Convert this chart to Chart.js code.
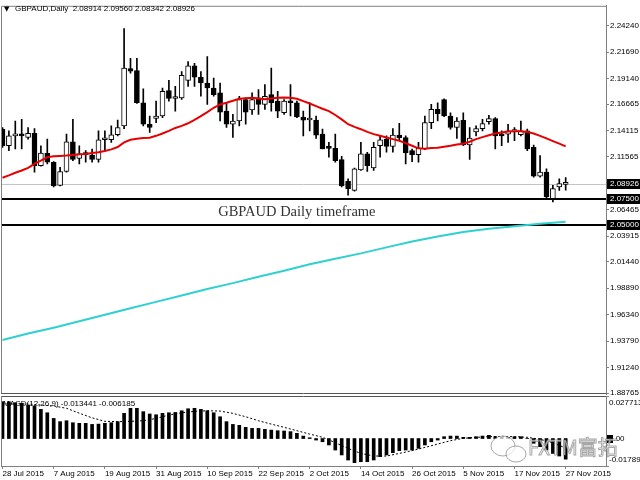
<!DOCTYPE html>
<html>
<head>
<meta charset="utf-8">
<script src="https://cdn.jsdelivr.net/npm/chart.js@4.4.0/dist/chart.umd.min.js"></script>
<style>
  html, body { margin: 0; padding: 0; background: #fff; }
  #wrap { position: relative; width: 640px; height: 480px; overflow: hidden; }
  .pane { position: absolute; left: 0; width: 640px; }
  #mainPane { top: 0; height: 400px; }
  #macdPane { top: 394px; height: 86px; }
</style>
</head>
<body>
<div id="wrap">
  <div class="pane" id="mainPane"><canvas id="mainChart"></canvas></div>
  <div class="pane" id="macdPane"><canvas id="macdChart"></canvas></div>
</div>
<script>
// GBPAUD daily, 28 Jul 2015 - 27 Nov 2015 (one entry per trading day)
const symbol = 'GBPAUD';
const timeframe = 'Daily';

const open = [2.1424, 2.1264, 2.1360, 2.1376, 2.1344, 2.1385, 2.1073, 2.1191, 2.1105, 2.0882,
  2.1016, 2.1303, 2.1143, 2.1185, 2.1175, 2.1131, 2.1322, 2.1322, 2.1370, 2.1456,
  2.2010, 2.1991, 2.1679, 2.1472, 2.1529, 2.1551, 2.1797, 2.1720, 2.1726, 2.1895,
  2.2036, 2.1924, 2.1870, 2.1822, 2.1774, 2.1599, 2.1472, 2.1503, 2.1711, 2.1609,
  2.1726, 2.1663, 2.1758, 2.1695, 2.1583, 2.1695, 2.1679, 2.1542, 2.1513, 2.1513,
  2.1376, 2.1245, 2.1239, 2.1131, 2.0920, 2.0834, 2.1032, 2.1185, 2.1051, 2.1264,
  2.1328, 2.1258, 2.1366, 2.1344, 2.1217, 2.1178, 2.1233, 2.1487, 2.1615, 2.1711,
  2.1551, 2.1440, 2.1510, 2.1271, 2.1398, 2.1430, 2.1497, 2.1526, 2.1366, 2.1376,
  2.1401, 2.1370, 2.1408, 2.1248, 2.0971, 2.1009, 2.0754, 2.0866, 2.08914];
const high = [2.1440, 2.1408, 2.1503, 2.1519, 2.1440, 2.1430, 2.1264, 2.1328, 2.1111, 2.1057,
  2.1376, 2.1519, 2.1264, 2.1217, 2.1233, 2.1408, 2.1408, 2.1456, 2.1513, 2.2396,
  2.2109, 2.2109, 2.1813, 2.1551, 2.1695, 2.1822, 2.1895, 2.1838, 2.1981, 2.2077,
  2.2061, 2.1981, 2.2125, 2.1918, 2.1870, 2.1679, 2.1567, 2.1742, 2.1726, 2.1774,
  2.1806, 2.1854, 2.2013, 2.1790, 2.1711, 2.1854, 2.1695, 2.1599, 2.1679, 2.1551,
  2.1424, 2.1296, 2.1376, 2.1162, 2.0946, 2.1048, 2.1296, 2.1201, 2.1296, 2.1360,
  2.1360, 2.1430, 2.1481, 2.1360, 2.1233, 2.1296, 2.1551, 2.1663, 2.1679, 2.1717,
  2.1583, 2.1535, 2.1583, 2.1440, 2.1456, 2.1519, 2.1558, 2.1535, 2.1408, 2.1472,
  2.1440, 2.1503, 2.1424, 2.1271, 2.1169, 2.1041, 2.0882, 2.0946, 2.09560];
const low = [2.1248, 2.1217, 2.1233, 2.1233, 2.1328, 2.1009, 2.1067, 2.1089, 2.0866, 2.0876,
  2.1009, 2.1121, 2.1089, 2.1105, 2.1105, 2.1105, 2.1217, 2.1296, 2.1360, 2.1430,
  2.1966, 2.1672, 2.1456, 2.1392, 2.1487, 2.1535, 2.1695, 2.1599, 2.1711, 2.1838,
  2.1838, 2.1742, 2.1663, 2.1742, 2.1503, 2.1440, 2.1344, 2.1456, 2.1472, 2.1567,
  2.1567, 2.1615, 2.1599, 2.1535, 2.1567, 2.1551, 2.1535, 2.1360, 2.1408, 2.1335,
  2.1233, 2.1153, 2.1105, 2.0866, 2.0786, 2.0825, 2.1025, 2.1016, 2.1025, 2.1153,
  2.1201, 2.1201, 2.1312, 2.1089, 2.1111, 2.1105, 2.1226, 2.1430, 2.1503, 2.1545,
  2.1424, 2.1335, 2.1264, 2.1131, 2.1360, 2.1408, 2.1472, 2.1233, 2.1264, 2.1296,
  2.1312, 2.1360, 2.1217, 2.0962, 2.0962, 2.0754, 2.0722, 2.0834, 2.08342];
const close = [2.1264, 2.1360, 2.1376, 2.1360, 2.1385, 2.1073, 2.1194, 2.1105, 2.0876, 2.1016,
  2.1303, 2.1131, 2.1185, 2.1178, 2.1131, 2.1322, 2.1328, 2.1370, 2.1440, 2.2013,
  2.1985, 2.1679, 2.1472, 2.1440, 2.1551, 2.1790, 2.1720, 2.1726, 2.1943, 2.2036,
  2.1927, 2.1870, 2.1822, 2.1758, 2.1589, 2.1472, 2.1503, 2.1711, 2.1589, 2.1711,
  2.1663, 2.1742, 2.1679, 2.1599, 2.1695, 2.1679, 2.1542, 2.1510, 2.1519, 2.1366,
  2.1233, 2.1239, 2.1121, 2.0876, 2.0850, 2.1041, 2.1185, 2.1073, 2.1248, 2.1322,
  2.1258, 2.1366, 2.1341, 2.1194, 2.1178, 2.1239, 2.1487, 2.1615, 2.1574, 2.1551,
  2.1440, 2.1503, 2.1271, 2.1338, 2.1430, 2.1478, 2.1526, 2.1360, 2.1360, 2.1408,
  2.1414, 2.1408, 2.1233, 2.0971, 2.1009, 2.0770, 2.0850, 2.0898, 2.08926];

// red moving average
const maRed = [2.0955, 2.0978, 2.1003, 2.1025, 2.1051, 2.1089, 2.1121, 2.1153, 2.1162, 2.1166,
  2.1169, 2.1175, 2.1182, 2.1185, 2.1194, 2.1201, 2.1213, 2.1229, 2.1252, 2.1296,
  2.1322, 2.1331, 2.1338, 2.1341, 2.1360, 2.1382, 2.1408, 2.1436, 2.1456, 2.1481,
  2.1513, 2.1551, 2.1589, 2.1631, 2.1663, 2.1679, 2.1698, 2.1717, 2.1723, 2.1727,
  2.1720, 2.1714, 2.1720, 2.1727, 2.1730, 2.1727, 2.1717, 2.1695, 2.1672, 2.1647,
  2.1621, 2.1599, 2.1561, 2.1519, 2.1472, 2.1446, 2.1424, 2.1398, 2.1376, 2.1360,
  2.1344, 2.1328, 2.1312, 2.1290, 2.1264, 2.1239, 2.1236, 2.1242, 2.1245, 2.1255,
  2.1264, 2.1277, 2.1284, 2.1303, 2.1328, 2.1347, 2.1366, 2.1382, 2.1392, 2.1401,
  2.1405, 2.1405, 2.1398, 2.1382, 2.1360, 2.1335, 2.1309, 2.1284, 2.1258];

// long (cyan) average, read every 4th bar
const cyanBars = [0, 4, 8, 12, 16, 20, 24, 28, 32, 36, 40, 44, 48, 52, 56, 60, 64, 68, 72, 76, 80, 84, 88];
const cyanVals = [1.9389, 1.9451, 1.9508, 1.9570, 1.9632, 1.9695, 1.9757, 1.9819, 1.9881, 1.9938,
  2.0000, 2.0058, 2.0120, 2.0173, 2.0225, 2.0283, 2.0340, 2.0388, 2.0431, 2.0464, 2.0488, 2.0512, 2.0531];

// MACD(12,26,9) main as histogram, signal as dotted line
const macdMain = [0.0240, 0.0240, 0.0233, 0.0229, 0.0218, 0.0212, 0.0190, 0.0168, 0.0131, 0.0110,
  0.0116, 0.0103, 0.0099, 0.0099, 0.0092, 0.0094, 0.0099, 0.0103, 0.0110, 0.0164,
  0.0197, 0.0197, 0.0175, 0.0160, 0.0155, 0.0164, 0.0168, 0.0170, 0.0181, 0.0194,
  0.0197, 0.0190, 0.0181, 0.0168, 0.0142, 0.0110, 0.0092, 0.0086, 0.0073, 0.0066,
  0.0066, 0.0060, 0.0055, 0.0051, 0.0049, 0.0045, 0.0034, 0.0016, 0.0005, -0.0010,
  -0.0021, -0.0042, -0.0075, -0.0107, -0.0140, -0.0157, -0.0151, -0.0151, -0.0140, -0.0118,
  -0.0107, -0.0092, -0.0079, -0.0075, -0.0075, -0.0064, -0.0042, -0.0021, -0.0010, 0.0012,
  0.0016, 0.0016, 0.0008, 0.0008, 0.0012, 0.0016, 0.0021, 0.0012, 0.0008, 0.0008,
  0.0012, 0.0012, 0.0001, -0.0031, -0.0053, -0.0075, -0.0097, -0.0114, -0.013441];
const signalBars = [0, 4, 8, 10, 12, 14, 16, 18, 20, 22, 24, 26, 28, 30, 32, 34, 36, 38, 40, 42,
  44, 46, 48, 50, 52, 54, 56, 58, 60, 62, 64, 66, 68, 70, 72, 74, 76, 78, 80, 82, 84, 86, 88];
const signalVals = [0.0229, 0.0225, 0.0212, 0.0197, 0.0165, 0.0135, 0.0112, 0.0110, 0.0112, 0.0116,
  0.0131, 0.0153, 0.0168, 0.0177, 0.0181, 0.0179, 0.0164, 0.0142, 0.0116, 0.0094,
  0.0073, 0.0051, 0.0029, 0.0008, -0.0027, -0.0064, -0.0097, -0.0114, -0.0114, -0.0097,
  -0.0079, -0.0058, -0.0036, -0.0014, 0.0001, 0.0008, 0.0012, 0.0014, 0.0012, 0.0008,
  -0.0005, -0.0027, -0.006185];

// axis labels
const dateBars = [0, 8, 16, 24, 32, 40, 48, 56, 64, 72, 80, 88];
const dateLabels = ['28 Jul 2015', '7 Aug 2015', '19 Aug 2015', '31 Aug 2015', '10 Sep 2015', '22 Sep 2015',
  '2 Oct 2015', '14 Oct 2015', '26 Oct 2015', '5 Nov 2015', '17 Nov 2015', '27 Nov 2015'];
const priceTicks = [2.24240, 2.21690, 2.19140, 2.16665, 2.14115, 2.11565, 2.06465,
  2.03915, 2.01440, 1.98890, 1.96340, 1.93790, 1.91240, 1.88765];
const levels = [2.07500, 2.05000];
const macdTicks = [0.027713, 0, -0.017897];

const noteText = 'GBPAUD Daily timeframe';
const watermark = 'FXTM富拓';

// ---------- layout ----------
const FONT = 'Liberation Sans';
const xMin = -0.234, xMax = 94.3;        // 6.4px per bar, chart shifted left
const priceMin = 1.88676, priceMax = 2.26152;
const macdMin = -0.017897, macdMax = 0.027713;
const noteAt = [46, 2.0625];

Chart.defaults.font.family = FONT;
Chart.defaults.font.size = 8;
Chart.defaults.color = '#000';

const bars = open.map((_, i) => i);
const last = bars.length - 1;
const bid = close[last];

function hline(ctx, a, py, color, width) {
  ctx.strokeStyle = color;
  ctx.lineWidth = width;
  ctx.beginPath();
  ctx.moveTo(a.left, py);
  ctx.lineTo(a.right, py);
  ctx.stroke();
}

const mainDecor = {
  id: 'mainDecor',
  beforeDatasetsDraw(chart) {
    const { ctx, chartArea: a, scales: { x, y } } = chart;
    ctx.save();
    hline(ctx, a, Math.round(y.getPixelForValue(bid)) + 0.5, '#c4c4c4', 1);
    levels.forEach(v => hline(ctx, a, Math.round(y.getPixelForValue(v)), '#000', 2));
    ctx.font = '14.5px "Liberation Serif"';
    ctx.fillStyle = '#333';
    ctx.textAlign = 'center';
    ctx.textBaseline = 'middle';
    ctx.fillText(noteText, x.getPixelForValue(noteAt[0]), y.getPixelForValue(noteAt[1]));
    ctx.restore();
  },
  afterDraw(chart) {
    const { ctx, chartArea: a, scales: { y } } = chart;
    ctx.save();
    // frame
    ctx.strokeStyle = '#808080';
    ctx.lineWidth = 1;
    ctx.beginPath();
    ctx.moveTo(a.left + 0.5, a.bottom);
    ctx.lineTo(a.left + 0.5, a.top + 0.5);
    ctx.lineTo(a.right, a.top + 0.5);
    ctx.stroke();
    ctx.strokeStyle = '#555';
    ctx.beginPath();
    ctx.moveTo(a.left, a.bottom - 0.5);
    ctx.lineTo(a.right, a.bottom - 0.5);
    ctx.stroke();
    // highlighted price boxes on the axis
    ctx.font = '8px "' + FONT + '"';
    ctx.textBaseline = 'middle';
    ctx.textAlign = 'left';
    [bid].concat(levels).forEach(v => {
      const py = Math.round(y.getPixelForValue(v));
      ctx.fillStyle = '#000';
      ctx.fillRect(a.right + 1, py - 5, 640 - a.right, 10);
      ctx.fillStyle = '#fff';
      ctx.fillText(v.toFixed(5), a.right + 4, py);
    });
    // header
    ctx.fillStyle = '#000';
    ctx.font = '7px "DejaVu Sans"';
    ctx.fillText('\u25BC', 4, 9);
    ctx.font = '8px "' + FONT + '"';
    const hdr = symbol + ',' + timeframe + '  ' + [open[last], high[last], low[last], close[last]]
      .map(v => v.toFixed(5)).join(' ');
    ctx.fillText(hdr, 15, 9);
    ctx.restore();
  }
};

new Chart(document.getElementById('mainChart'), {
  type: 'bar',
  data: {
    datasets: [
      {
        type: 'line',
        data: bars.map(i => ({ x: i, y: maRed[i] })),
        borderColor: '#e60000',
        borderWidth: 2,
        pointRadius: 0,
        order: 0
      },
      {
        type: 'line',
        data: cyanBars.map((b, k) => ({ x: b, y: cyanVals[k] })),
        borderColor: '#2fd0d0',
        borderWidth: 2,
        pointRadius: 0,
        order: 0
      },
      {
        data: bars.map(i => ({ x: i, y: [open[i], close[i]] })),
        backgroundColor: bars.map(i => close[i] >= open[i] ? '#fff' : '#000'),
        borderColor: '#000',
        borderWidth: 1,
        borderSkipped: false,
        barThickness: 5,
        minBarLength: 2,
        grouped: false,
        order: 1
      },
      {
        data: bars.map(i => ({ x: i, y: [low[i], high[i]] })),
        backgroundColor: '#000',
        barThickness: 1,
        grouped: false,
        order: 2
      }
    ]
  },
  options: {
    animation: false,
    responsive: true,
    maintainAspectRatio: false,
    layout: { padding: { left: 1, top: 2, bottom: 6, right: 0 } },
    plugins: { legend: { display: false }, tooltip: { enabled: false } },
    scales: {
      x: { type: 'linear', min: xMin, max: xMax, offset: false, display: false, grid: { offset: false } },
      y: {
        type: 'linear',
        position: 'right',
        min: priceMin,
        max: priceMax,
        beginAtZero: false,
        afterBuildTicks: s => { s.ticks = priceTicks.map(v => ({ value: v })); },
        afterFit: s => { s.width = 34; },
        grid: { drawOnChartArea: false, tickLength: 3, color: '#808080' },
        border: { display: true, color: '#808080' },
        ticks: { padding: 1, color: '#000', font: { size: 8 }, callback: v => v.toFixed(5) }
      }
    }
  },
  plugins: [mainDecor]
});

const macdDecor = {
  id: 'macdDecor',
  beforeDatasetsDraw(chart) {
    const { ctx, chartArea: a } = chart;
    ctx.save();
    ctx.font = '8px "' + FONT + '"';
    ctx.fillStyle = '#000';
    ctx.textBaseline = 'middle';
    ctx.fillText('MACD(12,26,9) ' + macdMain[last].toFixed(6) + ' ' +
      signalVals[signalVals.length - 1].toFixed(6), a.left + 2, a.top + 8);
    ctx.restore();
  },
  afterDraw(chart) {
    const { ctx, chartArea: a, scales: { y } } = chart;
    ctx.save();
    ctx.strokeStyle = '#555';
    ctx.lineWidth = 1;
    ctx.beginPath();
    ctx.moveTo(a.left, a.top + 0.5);
    ctx.lineTo(a.right, a.top + 0.5);
    ctx.stroke();
    ctx.strokeStyle = '#808080';
    ctx.beginPath();
    ctx.moveTo(a.left + 0.5, a.top);
    ctx.lineTo(a.left + 0.5, a.bottom);
    ctx.stroke();
    // right axis labels, kept inside the pane
    ctx.font = '8px "' + FONT + '"';
    ctx.textBaseline = 'middle';
    macdTicks.forEach(v => {
      const p0 = Math.round(y.getPixelForValue(v));
      const py = Math.min(Math.max(p0, a.top + 7), a.bottom - 6);
      if (v === 0) {
        ctx.fillStyle = '#000';
        ctx.fillRect(a.right + 1, p0 - 4, 6, 8);
      }
      ctx.beginPath();
      ctx.moveTo(a.right, p0 + 0.5);
      ctx.lineTo(a.right + 3, p0 + 0.5);
      ctx.stroke();
      ctx.fillStyle = '#000';
      ctx.fillText(v === 0 ? '0.00' : v.toFixed(6), a.right + 3, py);
    });
    // watermark (canvas coords of this pane)
    ctx.strokeStyle = 'rgba(110,110,110,0.6)';
    ctx.fillStyle = 'rgba(255,255,255,0.7)';
    ctx.lineWidth = 1;
    ctx.beginPath();
    ctx.ellipse(503, a.top + 50, 12, 10, 0, 0, Math.PI * 2);
    ctx.fill();
    ctx.stroke();
    ctx.beginPath();
    ctx.ellipse(516, a.top + 58, 10, 8, 0, 0, Math.PI * 2);
    ctx.fill();
    ctx.stroke();
    ctx.font = '20px "Noto Sans CJK SC"';
    ctx.textBaseline = 'alphabetic';
    ctx.textAlign = 'left';
    ctx.fillText(watermark, 528, a.top + 59);
    ctx.strokeText(watermark, 528, a.top + 59);
    ctx.restore();
  }
};

new Chart(document.getElementById('macdChart'), {
  type: 'bar',
  data: {
    datasets: [
      {
        type: 'line',
        data: signalBars.map((b, k) => ({ x: b, y: signalVals[k] })),
        borderColor: '#000',
        borderWidth: 1,
        borderDash: [2, 2],
        pointRadius: 0,
        order: 0
      },
      {
        data: bars.map(i => ({ x: i, y: macdMain[i] })),
        backgroundColor: '#000',
        barThickness: 3,
        grouped: false,
        order: 1
      }
    ]
  },
  options: {
    animation: false,
    responsive: true,
    maintainAspectRatio: false,
    layout: { padding: { left: 1, top: 2, bottom: 0, right: 0 } },
    plugins: { legend: { display: false }, tooltip: { enabled: false } },
    scales: {
      x: {
        type: 'linear',
        min: xMin,
        max: xMax,
        offset: false,
        afterBuildTicks: s => { s.ticks = dateBars.map(v => ({ value: v })); },
        afterFit: s => { s.height = 14; },
        grid: { drawOnChartArea: false, tickLength: 3, color: '#808080', offset: false },
        border: { display: true, color: '#808080' },
        ticks: {
          align: 'start', padding: 0, maxRotation: 0, autoSkip: false,
          color: '#000', font: { size: 8 },
          callback: (v, i) => dateLabels[i]
        }
      },
      y: {
        type: 'linear',
        position: 'right',
        min: macdMin,
        max: macdMax,
        beginAtZero: false,
        afterFit: s => { s.width = 34; },
        ticks: { display: false },
        grid: { display: false },
        border: { display: true, color: '#808080' }
      }
    }
  },
  plugins: [macdDecor]
});
</script>
</body>
</html>
